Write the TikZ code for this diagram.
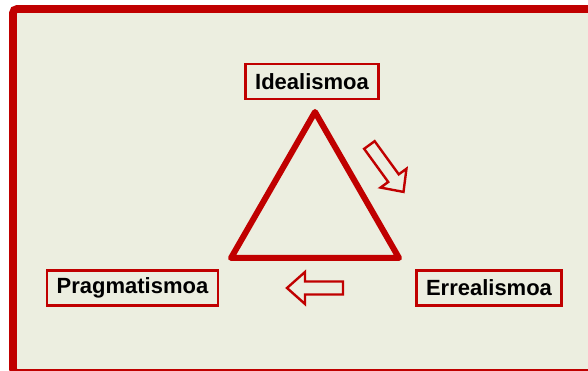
\documentclass[tikz,border=0pt]{standalone}
\usepackage{fontspec}
\setmainfont{Liberation Sans}
\usetikzlibrary{positioning}
\definecolor{kred}{RGB}{192,0,0}
\definecolor{kpaper}{RGB}{236,238,224}

\tikzset{
    labelbox/.style={draw=kred, line width=2.5pt, fill=kpaper, inner xsep=9.5pt, minimum height=35pt, font=\fontsize{22}{24}\selectfont\bfseries},
    hollowarrow/.style={draw=kred, line width=2.4pt, fill=kpaper, line join=miter}
}

\begin{document}
\begin{tikzpicture}[x=1pt, y=1pt]
        % page
        \useasboundingbox (0,0) rectangle (588,371);
        \clip (0,0) rectangle (588,371);
        \fill[white] (0,0) rectangle (588,371);

        % frame
        \draw[draw=kred, line width=7.7pt, fill=kpaper, rounded corners=4pt] (13,362) rectangle (593,-2);

        % triangle
        \coordinate (apex) at (315,259);
        \coordinate (left) at (231,113);
        \coordinate (right) at (399,113);
        \draw[kred, line width=6pt, line join=round] (apex) -- (right) -- (left) -- cycle;

        % labels
        \node[labelbox] (ideal) at (312,289.5) {Idealismoa};
        \node[labelbox] (prag) at (132.5,83) {Pragmatismoa};
        \node[labelbox] (erreal) at (489,83) {Errealismoa};

        % hollow arrows
        \draw[hollowarrow, shift={(369.4,226)}, rotate=-54]
            (0,-6.5) -- (41,-6.5) -- (41,-16) -- (58,0) -- (41,16) -- (41,6.5) -- (0,6.5) -- cycle;
        \draw[hollowarrow, shift={(343,83)}, rotate=180]
            (0,-6.5) -- (38,-6.5) -- (38,-16) -- (56,0) -- (38,16) -- (38,6.5) -- (0,6.5) -- cycle;

%        \draw[help lines, step=10] (0,0) grid (588,371);
    \end{tikzpicture}
\end{document}
